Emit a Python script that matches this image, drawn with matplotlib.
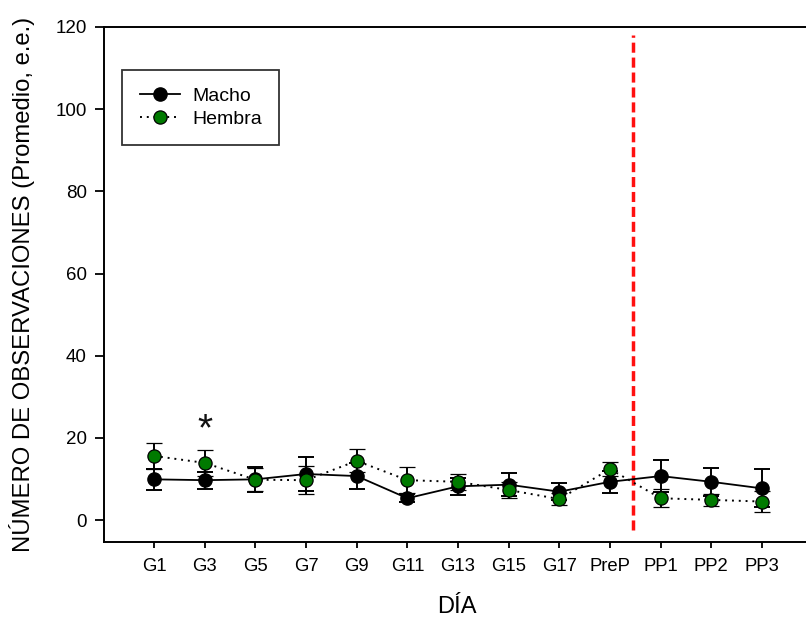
import matplotlib
matplotlib.use("Agg")
import matplotlib.pyplot as plt
from matplotlib.lines import Line2D
import numpy as np

plt.rcParams['font.family'] = ['Liberation Sans', 'DejaVu Sans']

dias = ["G1", "G3", "G5", "G7", "G9", "G11", "G13", "G15", "G17", "PreP", "PP1", "PP2", "PP3"]
macho = [9.9, 9.7, 9.9, 11.2, 10.7, 5.3, 8.2, 8.6, 6.9, 9.3, 10.7, 9.3, 7.7]
macho_err = [2.5, 2.1, 3.0, 4.1, 3.2, 1.0, 2.0, 2.8, 2.0, 2.7, 3.9, 3.4, 4.6]
hembra = [15.6, 13.9, 9.8, 9.7, 14.4, 9.7, 9.3, 7.3, 5.1, 12.4, 5.3, 4.9, 4.5]
hembra_err = [3.1, 3.1, 2.8, 3.4, 2.8, 3.1, 2.0, 2.0, 1.5, 1.8, 2.2, 1.5, 2.5]
separador = 9.45
asterisco = (1, 19.3)

fig = plt.figure(figsize=(8.06, 6.22), dpi=100)
ax = fig.add_axes([104/806, 1-542/622, 1-104/806, (542-27)/622])

x = np.arange(len(dias))
ax.errorbar(x, macho, yerr=macho_err, color='black', lw=1.3, ls='-',
            marker='o', ms=9.5, mfc='black', mec='black', capsize=5.5, capthick=1.4,
            elinewidth=1.4, ecolor='black', zorder=3)
ax.errorbar(x, hembra, yerr=hembra_err, color='black', lw=1.4, ls=(0, (1, 2.5)),
            marker='o', ms=9.5, mfc='#007a00', mec='black', mew=0.9, capsize=5.5, capthick=1.4,
            elinewidth=1.4, ecolor='black', zorder=4)

ax.plot([separador, separador], [-2.5, 118], color='#ff1010', lw=2.5,
        ls=(0, (2.9, 1.4)), zorder=2)

ax.text(asterisco[0], asterisco[1], '*', fontsize=28, ha='center', va='baseline',
        color='#111111')

ax.set_xlim(-0.99, 12.87)
ax.set_ylim(-5.35, 120)
ax.set_xticks(x)
ax.set_xticklabels(dias)
ax.set_yticks([0, 20, 40, 60, 80, 100, 120])
ax.spines['right'].set_visible(False)
for s in ['left', 'top', 'bottom']:
    ax.spines[s].set_linewidth(1.4)
ax.tick_params(axis='y', direction='out', length=6.5, width=1.3, labelsize=13.5, pad=5.8)
ax.tick_params(axis='x', direction='out', length=4, width=1.3, labelsize=13.3, pad=7.5)

ax.set_xlabel('DÍA', fontsize=17)
ax.xaxis.set_label_coords(0.503, -0.105)
ax.set_ylabel('NÚMERO DE OBSERVACIONES (Promedio, e.e.)', fontsize=17.2)
ax.yaxis.set_label_coords(-0.098, 0.5)

handles = [
    Line2D([], [], color='black', lw=1.3, ls='-', marker='o', ms=9.5,
           mfc='black', mec='black'),
    Line2D([], [], color='black', lw=1.4, ls=(0, (1, 2.5)), marker='o', ms=9.5,
           mfc='#007a00', mec='black', mew=0.9),
]
leg = ax.legend(handles, ['Macho', 'Hembra'], loc='upper left',
                bbox_to_anchor=((122-104)/702, (542-70)/515), fontsize=14,
                frameon=True, fancybox=False, edgecolor='black', handlelength=2.1,
                borderpad=0.9, labelspacing=0.25, handletextpad=0.6, borderaxespad=0)
leg.get_frame().set_linewidth(1.3)

fig.savefig('out.png', dpi=100)
